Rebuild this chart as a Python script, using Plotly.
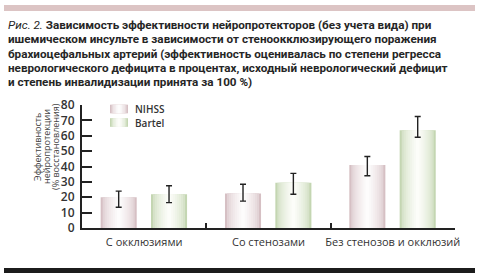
import plotly.graph_objects as go

categories = ["С окклюзиями", "Со стенозами", "Без стенозов и окклюзий"]
nihss = [20, 22.5, 41]
nihss_hi = [24, 28.5, 46.5]
nihss_lo = [13.5, 17.5, 34]
barthel = [22, 29.5, 63.5]
barthel_hi = [27.5, 35.5, 72.5]
barthel_lo = [16.5, 22, 59]
series_names = ["NIHSS", "Bartel"]
y_ticks = [0, 10, 20, 30, 40, 50, 60, 70, 80]

title_lines = [
    "<i>Рис. 2.</i> <b>Зависимость эффективности нейропротекторов (без учета вида) при</b>",
    "<b>ишемическом инсульте в зависимости от стеноокклюзирующего поражения</b>",
    "<b>брахиоцефальных артерий (эффективность оценивалась по степени регресса</b>",
    "<b>неврологического дефицита в процентах, исходный неврологический дефицит</b>",
    "<b>и степень инвалидизации принята за 100 %)</b>",
]
ytitle_lines = ["Эффективность", "нейропротекции", "(% восстановления)"]

W, H = 480, 278
ML, MR, MT, MB = 82, 25, 105, 50
PW, PH = W - ML - MR, H - MT - MB

def px_x(p):
    return (p - ML) / PW

def px_y(p):
    return 1 - (p - MT) / PH

def mix(c1, c2, t):
    return "rgb(%d,%d,%d)" % tuple(round(a + (b - a) * t) for a, b in zip(c1, c2))

PINK_EDGE, PINK_MID = (214, 192, 196), (253, 252, 252)
GREEN_EDGE, GREEN_MID = (196, 214, 178), (252, 253, 249)

fig = go.Figure()
N = 9
BW = 0.29
series = [
    (nihss, nihss_hi, nihss_lo, -0.205, PINK_EDGE, PINK_MID, series_names[0]),
    (barthel, barthel_hi, barthel_lo, 0.2, GREEN_EDGE, GREEN_MID, series_names[1]),
]
for vals, hi, lo, c, edge, center, name in series:
    for k in range(N):
        t = k / (N - 1)
        w = BW * (1 - 0.9 * t)
        kw = {}
        if k == N - 1:
            kw["error_y"] = dict(
                type="data", symmetric=False,
                array=[h - v for h, v in zip(hi, vals)],
                arrayminus=[v - l for v, l in zip(vals, lo)],
                color="#222", thickness=1.4, width=3,
            )
        fig.add_trace(go.Bar(
            x=categories, y=vals, width=w, offset=c - w / 2,
            marker=dict(color=mix(edge, center, t ** 0.55), line=dict(width=0)),
            name=name, showlegend=False, hoverinfo="skip", **kw,
        ))

fig.update_layout(
    width=W, height=H, barmode="overlay",
    margin=dict(l=ML, r=MR, t=MT, b=MB, autoexpand=False),
    paper_bgcolor="white", plot_bgcolor="white",
    font=dict(family="Roboto", color="#333"),
    showlegend=False,
    xaxis=dict(
        type="category", range=[-0.5, 2.5], showline=True, linecolor="#222", linewidth=2,
        ticks="inside", ticklen=5, tickwidth=1.5, tickcolor="#222", tickson="boundaries",
        tickfont=dict(size=11, color="#333", family="Open Sans"), showgrid=False, zeroline=False,
        tickangle=0, automargin=False, ticklabelstandoff=3,
    ),
    yaxis=dict(
        range=[0, 80], tickvals=y_ticks, showline=True, linecolor="#222", linewidth=2,
        ticks="inside", ticklen=10, tickwidth=1.5, tickcolor="#222",
        tickfont=dict(size=12, color="#333", weight=600, family="Open Sans"),
        showgrid=False, zeroline=False, ticklabelstandoff=3, automargin=False,
    ),
)

# custom legend (swatch with gradient + label)
for (name, edge, center), yc in zip(
        [(series_names[0], PINK_EDGE, PINK_MID), (series_names[1], GREEN_EDGE, GREEN_MID)], [109, 122.5]):
    x0, x1 = 110, 128
    for k in range(6):
        t = k / 5
        inset = 7.5 * t
        fig.add_shape(type="rect", xref="paper", yref="paper",
                      x0=px_x(x0 + inset), x1=px_x(x1 - inset),
                      y0=px_y(yc + 4.3), y1=px_y(yc - 4.3),
                      fillcolor=mix(edge, center, t ** 0.55), line=dict(width=0))
    fig.add_annotation(text=name, xref="paper", yref="paper", x=px_x(134), y=px_y(yc),
                       xanchor="left", yanchor="middle", showarrow=False, borderpad=0,
                       font=dict(size=10, color="#333", family="Open Sans", weight=600))

# decorative rules at top and bottom
fig.add_shape(type="rect", xref="paper", yref="paper", x0=px_x(4), x1=px_x(475), y0=px_y(11), y1=px_y(5),
              fillcolor="#dcc4c4", line=dict(width=0), layer="below")
fig.add_shape(type="rect", xref="paper", yref="paper", x0=px_x(4), x1=px_x(475), y0=px_y(273), y1=px_y(268),
              fillcolor="#1c1c1c", line=dict(width=0), layer="below")

for line, yp in zip(title_lines, [25, 39.3, 53.5, 67.8, 82]):
    fig.add_annotation(
        text=line, xref="paper", yref="paper", x=px_x(6), y=px_y(yp),
        xanchor="left", yanchor="middle", align="left", showarrow=False,
        font=dict(size=11.7, color="#262626", family="Roboto"),
    )
for line, xp in zip(ytitle_lines, [37, 46, 55]):
    fig.add_annotation(
        text=line, xref="paper", yref="paper", x=px_x(xp), y=px_y(147),
        xanchor="center", yanchor="middle", textangle=-90, showarrow=False,
        font=dict(size=9, color="#444", family="Open Sans"),
    )

fig.write_html("out.html")
